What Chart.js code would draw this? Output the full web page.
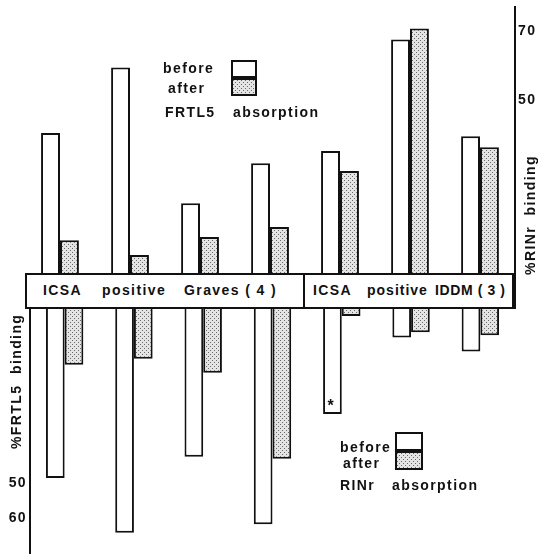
<!DOCTYPE html>
<html>
<head>
<meta charset="utf-8">
<script src="https://cdn.jsdelivr.net/npm/chart.js@4"></script>
<style>
  body { margin: 0; background: #fff; }
  #wrap { position: relative; width: 538px; height: 556px; overflow: hidden;
          font-family: "Liberation Sans", Arial, sans-serif; font-weight: bold; font-size: 14px;
          letter-spacing: 1.4px; color: #111; }
  canvas { position: absolute; left: 0; }
  .t { position: absolute; white-space: pre; line-height: 14px; }
  .box { position: absolute; border: 2px solid #111; box-sizing: border-box; background: #fff; }
  .sw { position: absolute; border: 2px solid #111; box-sizing: border-box; background: #fff; }
  .rot { position: absolute; white-space: pre; transform: rotate(-90deg); transform-origin: center center; }
</style>
</head>
<body>
<div id="wrap">
  <canvas id="topChart" width="538" height="273" style="top:0"></canvas>
  <canvas id="bottomChart" width="538" height="248" style="top:308px"></canvas>

  <!-- label band between the two halves -->
  <div class="box" style="left:25px; top:273px; width:280px; height:36px;"></div>
  <div class="box" style="left:303px; top:273px; width:213px; height:36px; border-right-width:4px;"></div>
  <div class="t" style="left:43px; top:283px;">ICSA</div>
  <div class="t" style="left:102px; top:283px;">positive</div>
  <div class="t" style="left:184px; top:283px;">Graves ( 4 )</div>
  <div class="t" style="left:313px; top:283px;">ICSA</div>
  <div class="t" style="left:367px; top:283px; letter-spacing:1px;">positive</div>
  <div class="t" style="left:435px; top:283px; letter-spacing:0.6px;">IDDM ( 3 )</div>

  <!-- FRTL5 legend -->
  <div class="t" style="left:163px; top:61px;">before</div>
  <div class="sw" style="left:231px; top:60px; width:26px; height:18px;"></div>
  <div class="t" style="left:168px; top:81px;">after</div>
  <div class="sw dots" style="left:231px; top:78px; width:26px; height:18px;"></div>
  <div class="t" style="left:165px; top:105px;">FRTL5</div>
  <div class="t" style="left:233px; top:105px;">absorption</div>

  <!-- RINr legend -->
  <div class="t" style="left:340px; top:440px;">before</div>
  <div class="sw" style="left:395px; top:432px; width:28px; height:19px;"></div>
  <div class="t" style="left:343px; top:456px;">after</div>
  <div class="sw dots" style="left:395px; top:451px; width:28px; height:19px;"></div>
  <div class="t" style="left:340px; top:478px;">RINr</div>
  <div class="t" style="left:392px; top:478px;">absorption</div>

  <!-- axis titles -->
  <div class="rot" style="left:467px; top:208px; width:124px; height:14px; text-align:center;">%RINr  binding</div>
  <div class="rot" style="left:-47px; top:380px; width:124px; height:14px; text-align:center;">%FRTL5  binding</div>
</div>

<script>
// one bar pair per patient: 4 Graves, 3 IDDM
const categories = ['Graves 1', 'Graves 2', 'Graves 3', 'Graves 4', 'IDDM 1', 'IDDM 2', 'IDDM 3'];

// %RINr binding (upper half)
const rinrBefore = [40.5, 59.5, 20.2, 31.8, 35.3, 67.6, 39.6];
const rinrAfter = [9.5, 5.2, 10.4, 13.3, 29.5, 70.8, 36.4];
const rinrTicks = [50, 70];

// %FRTL5 binding (lower half, drawn downwards)
const frtlBefore = [48.6, 64.2, 42.5, 61.8, 30.3, 8.4, 12.4];
const frtlAfter = [16.2, 14.5, 18.5, 43.1, 2.3, 6.9, 7.8];
const frtlTicks = [50, 60];

const starIndex = 4; // bar marked with an asterisk

// stippled fill for the "after" bars
function makeDots() {
    const c = document.createElement('canvas');
    c.width = 4; c.height = 4;
    const g = c.getContext('2d');
    g.fillStyle = '#e4e4e4';
    g.fillRect(0, 0, 4, 4);
    g.fillStyle = '#6a6a6a';
    g.fillRect(0, 0, 1, 1);
    g.fillRect(2, 2, 1, 1);
    return c;
}
const dotCanvas = makeDots();
const dots = dotCanvas.getContext('2d').createPattern(dotCanvas, 'repeat');
document.querySelectorAll('.dots').forEach(el => {
    el.style.backgroundImage = `url(${dotCanvas.toDataURL()})`;
});

const tickFont = { family: '"Liberation Sans", Arial, sans-serif', size: 14, weight: 'bold' };

function barSets(before, after) {
    return [
        { label: 'before', data: before, backgroundColor: '#fff', borderColor: '#111', borderWidth: 2 },
        { label: 'after', data: after, backgroundColor: dots, borderColor: '#111', borderWidth: 2 }
    ];
}

// keep the plot area flush with the band: no extra room for tick label halves
function fitAxis(width) {
    return s => {
        s.width = width;
        s.paddingTop = 0;
        s.paddingBottom = 0;
    };
}

new Chart(document.getElementById('topChart'), {
    type: 'bar',
    data: { labels: categories, datasets: barSets(rinrBefore, rinrAfter) },
    options: {
        responsive: false,
        animation: false,
        layout: { padding: { left: 25, top: 7, right: 0, bottom: 0 } },
        datasets: { bar: { categoryPercentage: 0.54, barPercentage: 1 } },
        plugins: { legend: { display: false }, tooltip: { enabled: false } },
        scales: {
            x: { display: false },
            y: {
                position: 'right',
                min: 0,
                max: 77,
                grid: { display: false, drawTicks: false },
                border: { color: '#111', width: 2 },
                ticks: { padding: 3, color: '#111', font: tickFont },
                afterBuildTicks: s => { s.ticks = rinrTicks.map(v => ({ value: v })); },
                afterFit: fitAxis(23)
            }
        }
    }
});

// asterisk inside the marked bar of the lower half
const starPlugin = {
    id: 'star',
    afterDatasetsDraw(chart) {
        const el = chart.getDatasetMeta(0).data[starIndex];
        const ctx = chart.ctx;
        ctx.save();
        ctx.fillStyle = '#111';
        ctx.font = 'bold 16px "Liberation Sans", Arial, sans-serif';
        ctx.textAlign = 'center';
        ctx.textBaseline = 'middle';
        ctx.fillText('*', el.x - 1, el.y - 7);
        ctx.restore();
    }
};

new Chart(document.getElementById('bottomChart'), {
    type: 'bar',
    data: { labels: categories, datasets: barSets(frtlBefore, frtlAfter) },
    options: {
        responsive: false,
        animation: false,
        layout: { padding: { left: 0, top: 0, right: 23, bottom: 3 } },
        datasets: { bar: { categoryPercentage: 0.54, barPercentage: 1 } },
        plugins: { legend: { display: false }, tooltip: { enabled: false } },
        scales: {
            x: { display: false },
            y: {
                position: 'left',
                reverse: true,
                min: 0,
                max: 70,
                grid: { display: false, drawTicks: false },
                border: { color: '#111', width: 2 },
                ticks: { padding: 3, color: '#111', font: tickFont },
                afterBuildTicks: s => { s.ticks = frtlTicks.map(v => ({ value: v })); },
                afterFit: fitAxis(30)
            }
        }
    },
    plugins: [starPlugin]
});
</script>
</body>
</html>
